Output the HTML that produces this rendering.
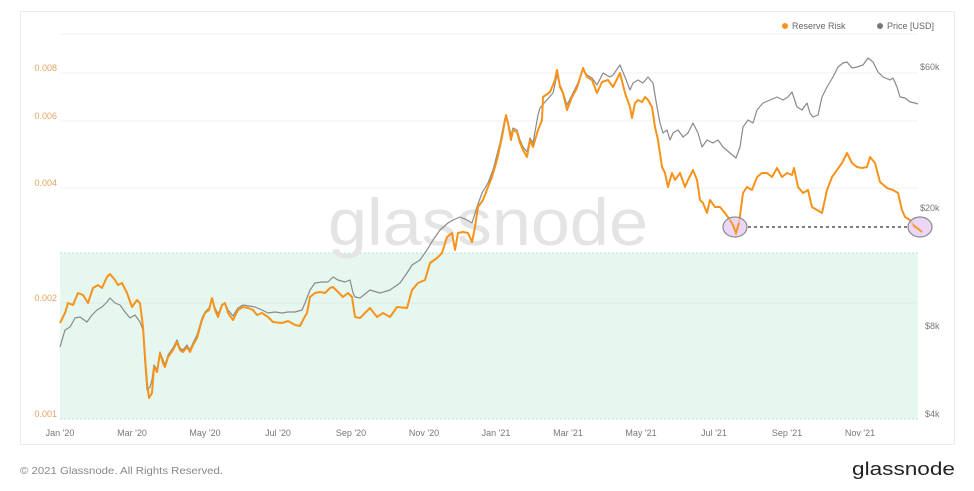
<!DOCTYPE html>
<html>
<head>
<meta charset="utf-8">
<style>
  html,body{margin:0;padding:0;background:#fff;}
  body{width:974px;height:491px;overflow:hidden;}
  svg{display:block;font-family:"Liberation Sans",sans-serif;}
</style>
</head>
<body>
<svg width="974" height="491" viewBox="0 0 974 491" xmlns="http://www.w3.org/2000/svg">
  <rect x="0" y="0" width="974" height="491" fill="#fff"/>
  <!-- frame -->
  <rect x="20.5" y="11.5" width="934" height="433" fill="#fff" stroke="#ebebeb" stroke-width="1"/>

  <!-- green band -->
  <rect x="60" y="253" width="858" height="166" fill="#e6f7ef"/>
  <line x1="60" y1="253" x2="918" y2="253" stroke="#b6e3d0" stroke-width="1" stroke-dasharray="2,2"/>
  <line x1="60" y1="419" x2="918" y2="419" stroke="#b6e3d0" stroke-width="1" stroke-dasharray="2,2"/>

  <!-- grid -->
  <g stroke="#f0f0f0" stroke-width="1">
    <line x1="60" y1="34" x2="918" y2="34"/>
    <line x1="60" y1="73" x2="918" y2="73"/>
    <line x1="60" y1="121" x2="918" y2="121"/>
    <line x1="60" y1="188" x2="918" y2="188"/>
  </g>
  <line x1="60" y1="303" x2="918" y2="303" stroke="#d9eee5" stroke-width="1"/>

  <!-- watermark -->
  <text x="328" y="245" font-size="66" fill="#e4e4e4" textLength="320" lengthAdjust="spacingAndGlyphs">glassnode</text>

  <!-- left axis labels -->
  <g font-size="9" fill="#e2a460" text-anchor="end">
    <text x="57" y="71">0.008</text>
    <text x="57" y="119">0.006</text>
    <text x="57" y="186">0.004</text>
    <text x="57" y="301">0.002</text>
    <text x="57" y="417">0.001</text>
  </g>

  <!-- right axis labels -->
  <g font-size="9" fill="#777">
    <text x="920" y="70">$60k</text>
    <text x="920" y="211">$20k</text>
    <text x="925" y="329">$8k</text>
    <text x="925" y="417">$4k</text>
  </g>

  <!-- x axis labels -->
  <g font-size="9" fill="#777" text-anchor="middle">
    <text x="60" y="436">Jan '20</text>
    <text x="132" y="436">Mar '20</text>
    <text x="205" y="436">May '20</text>
    <text x="278" y="436">Jul '20</text>
    <text x="351" y="436">Sep '20</text>
    <text x="424" y="436">Nov '20</text>
    <text x="496" y="436">Jan '21</text>
    <text x="568" y="436">Mar '21</text>
    <text x="641" y="436">May '21</text>
    <text x="714" y="436">Jul '21</text>
    <text x="787" y="436">Sep '21</text>
    <text x="860" y="436">Nov '21</text>
  </g>

  <!-- legend -->
  <circle cx="785" cy="26" r="3" fill="#f7931a"/>
  <text x="792" y="29" font-size="9" fill="#666">Reserve Risk</text>
  <circle cx="880" cy="26" r="3" fill="#777"/>
  <text x="887" y="29" font-size="9" fill="#666">Price [USD]</text>

  <!-- price series -->
  <polyline fill="none" stroke="#8a8a8a" stroke-width="1.2" stroke-linejoin="round" points="60,347 65,330 70,327 75,318 80,317 87,322 92,315 97,310 102,307 107,302 110,298 115,303 120,305 125,312 130,318 135,315 140,322 143,330 145,363 147,390 150,387 152,380 154,365 157,370 160,352 163,360 165,365 168,355 173,348 177,340 180,348 183,350 187,345 190,350 193,343 197,335 202,318 205,312 209,308 212,300 215,308 218,314 222,305 225,303 228,310 233,316 238,308 243,305 255,307 262,310 268,313 275,312 282,313 288,312 295,312 302,310 305,303 310,290 315,283 322,282 328,282 333,277 338,280 345,282 350,280 353,293 355,297 360,298 370,290 380,293 390,290 400,283 407,273 412,265 420,260 427,250 433,240 440,230 448,223 453,220 460,217 467,220 472,223 477,207 482,193 488,183 493,170 500,143 505,118 508,122 511,135 513,128 517,130 520,140 523,147 527,152 530,138 533,143 538,115 540,108 545,102 553,93 557,75 560,85 563,92 567,105 572,95 577,85 583,70 587,75 592,78 597,85 603,73 610,77 613,75 620,65 625,77 630,90 633,83 638,80 643,83 648,77 653,83 657,107 660,123 663,133 667,130 670,140 673,133 678,130 683,137 688,133 693,123 698,133 702,147 707,140 713,143 718,140 723,147 730,153 736,158 740,147 743,127 748,120 753,123 757,110 763,103 770,100 777,97 783,100 788,97 792,92 797,107 802,110 807,103 810,113 813,117 818,115 822,97 827,87 833,77 838,67 843,63 847,62 852,68 857,67 863,65 868,58 873,62 878,72 883,77 890,80 893,78 897,87 900,97 905,98 910,102 915,103 918,104"/>

  <!-- reserve risk series -->
  <polyline fill="none" stroke="#f7931a" stroke-width="2" stroke-linejoin="round" points="60,323 65,313 68,303 73,305 78,293 83,295 88,303 93,288 98,285 102,288 107,277 110,274 115,280 118,285 122,283 127,293 132,307 137,300 140,303 143,327 145,357 147,383 149,398 152,393 154,367 157,372 160,353 163,363 165,367 168,357 173,350 177,342 180,350 183,352 187,347 190,352 193,345 197,338 202,320 205,313 209,310 212,298 215,310 218,317 222,305 225,303 228,313 233,320 238,310 243,307 248,308 253,310 257,315 262,313 268,317 273,322 282,323 288,321 295,325 300,326 303,320 307,313 310,297 315,293 320,292 325,293 330,288 333,287 338,292 343,297 348,293 352,297 355,317 360,318 370,308 377,317 383,313 390,317 397,307 407,308 412,290 418,283 425,280 430,263 437,258 442,253 447,237 452,233 455,250 458,233 463,232 468,233 472,242 475,227 478,207 483,200 488,187 492,177 497,160 502,137 506,115 508,123 511,140 513,130 517,132 520,143 523,150 527,157 530,140 533,147 538,130 542,120 543,97 550,92 555,80 557,70 560,87 563,93 567,110 572,97 577,88 583,68 587,77 592,80 597,93 602,82 608,80 613,87 620,73 625,93 630,107 632,118 635,103 638,100 642,102 645,97 648,100 652,107 655,127 658,140 662,167 665,173 668,187 672,173 675,180 680,173 685,187 688,180 693,170 697,180 700,200 703,203 707,213 710,200 715,207 720,207 725,213 730,220 733,225 736,233 739,223 743,193 747,187 752,190 757,177 762,173 767,173 772,177 777,168 782,177 787,173 792,175 794,168 798,187 803,193 808,190 812,207 817,210 822,213 827,190 832,177 837,170 842,163 847,153 852,163 857,167 862,168 867,167 870,157 875,163 880,182 887,188 893,190 898,193 902,210 905,217 910,220 915,227 917,228"/>

  <!-- annotations -->
  <line x1="748" y1="227" x2="908" y2="227" stroke="#555" stroke-width="1.5" stroke-dasharray="3,3"/>
  <ellipse cx="735" cy="227" rx="12" ry="10" fill="#e4c8f2" fill-opacity="0.75" stroke="#8a8a8a" stroke-width="1.2"/>
  <ellipse cx="920" cy="227" rx="12" ry="10" fill="#e4c8f2" fill-opacity="0.75" stroke="#8a8a8a" stroke-width="1.2"/>
  <polyline fill="none" stroke="#f7931a" stroke-width="1.8" points="730,220 733,225 736,233 739,223"/>
  <polyline fill="none" stroke="#f7931a" stroke-width="1.8" points="913,225 917,228 922,232"/>

  <!-- footer -->
  <text x="20" y="474" font-size="10.5" fill="#888" textLength="203" lengthAdjust="spacingAndGlyphs">© 2021 Glassnode. All Rights Reserved.</text>
  <text x="852" y="475" font-size="18" fill="#222" textLength="103" lengthAdjust="spacingAndGlyphs">glassnode</text>
</svg>
</body>
</html>
